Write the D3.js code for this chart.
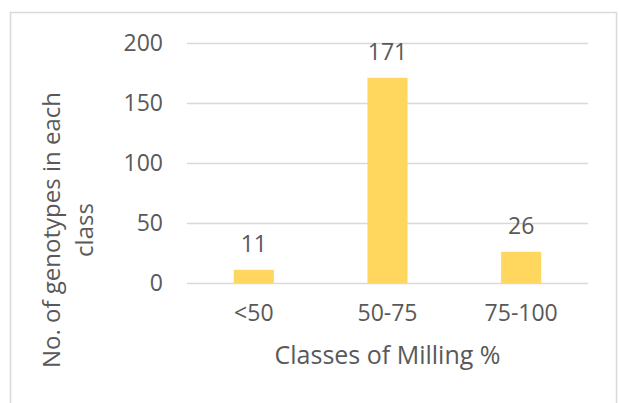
<!DOCTYPE html>
<html>
<head>
<meta charset="utf-8">
<script src="https://cdn.jsdelivr.net/npm/d3@7"></script>
<style>
  html, body { margin: 0; padding: 0; background: #fff; }
  svg { display: block; }
  text { font-family: "Open Sans", "Noto Sans", sans-serif; fill: #595959; }
</style>
</head>
<body>
<svg id="chart" width="619" height="403"></svg>
<script>
// Milling % classes and genotype counts
const categories = ["<50", "50-75", "75-100"];
const counts = [11, 171, 26];
const yTicks = [0, 50, 100, 150, 200];

const W = 619, H = 403;
const margin = { left: 187, right: 31, top: 43, bottom: 120 };
const svg = d3.select("#chart");

// chart frame
svg.append("rect")
  .attr("x", 10.5).attr("y", 12.5)
  .attr("width", 606).attr("height", 400)
  .attr("fill", "#fff").attr("stroke", "#d9d9d9").attr("stroke-width", 1.5);

const x = d3.scaleBand()
  .domain(categories)
  .range([margin.left, W - margin.right])
  .paddingInner(0.7).paddingOuter(0.35);

const y = d3.scaleLinear()
  .domain([0, 200])
  .range([H - margin.bottom, margin.top]);

// gridlines + y tick labels
const yAxis = d3.axisLeft(y)
  .tickValues(yTicks)
  .tickSize(-(W - margin.right - margin.left))
  .tickPadding(24);
const gy = svg.append("g")
  .attr("transform", `translate(${margin.left},0)`)
  .call(yAxis);
gy.select(".domain").remove();
gy.selectAll(".tick line").attr("stroke", "#d9d9d9").attr("stroke-width", 1.5);
gy.selectAll(".tick text")
  .attr("font-size", 23).attr("fill", "#595959")
  .style("font-family", "'Open Sans', sans-serif");

// x tick labels
const xAxis = d3.axisBottom(x).tickSize(0).tickPadding(22);
const gx = svg.append("g")
  .attr("transform", `translate(0,${y(0)})`)
  .call(xAxis);
gx.select(".domain").remove();
gx.selectAll(".tick text")
  .attr("font-size", 23).attr("fill", "#595959")
  .style("font-family", "'Open Sans', sans-serif");

// bars
svg.append("g").selectAll("rect")
  .data(counts)
  .join("rect")
  .attr("x", (d, i) => x(categories[i]))
  .attr("width", x.bandwidth())
  .attr("y", d => y(d))
  .attr("height", d => y(0) - y(d))
  .attr("fill", "#ffd75e");

// value labels
svg.append("g").selectAll("text")
  .data(counts)
  .join("text")
  .attr("x", (d, i) => x(categories[i]) + x.bandwidth() / 2)
  .attr("y", d => y(d) - 18)
  .attr("text-anchor", "middle")
  .attr("font-size", 23)
  .text(d => d);

// axis titles
svg.append("text")
  .attr("x", (margin.left + W - margin.right) / 2)
  .attr("y", 364)
  .attr("text-anchor", "middle")
  .attr("font-size", 25)
  .text("Classes of Milling %");

const yTitle = svg.append("text")
  .attr("transform", "translate(0,230) rotate(-90)")
  .attr("text-anchor", "middle")
  .attr("font-size", 24);
yTitle.append("tspan").attr("x", 0).attr("y", 60).text("No. of genotypes in each");
yTitle.append("tspan").attr("x", 0).attr("y", 93).text("class");
</script>
</body>
</html>
